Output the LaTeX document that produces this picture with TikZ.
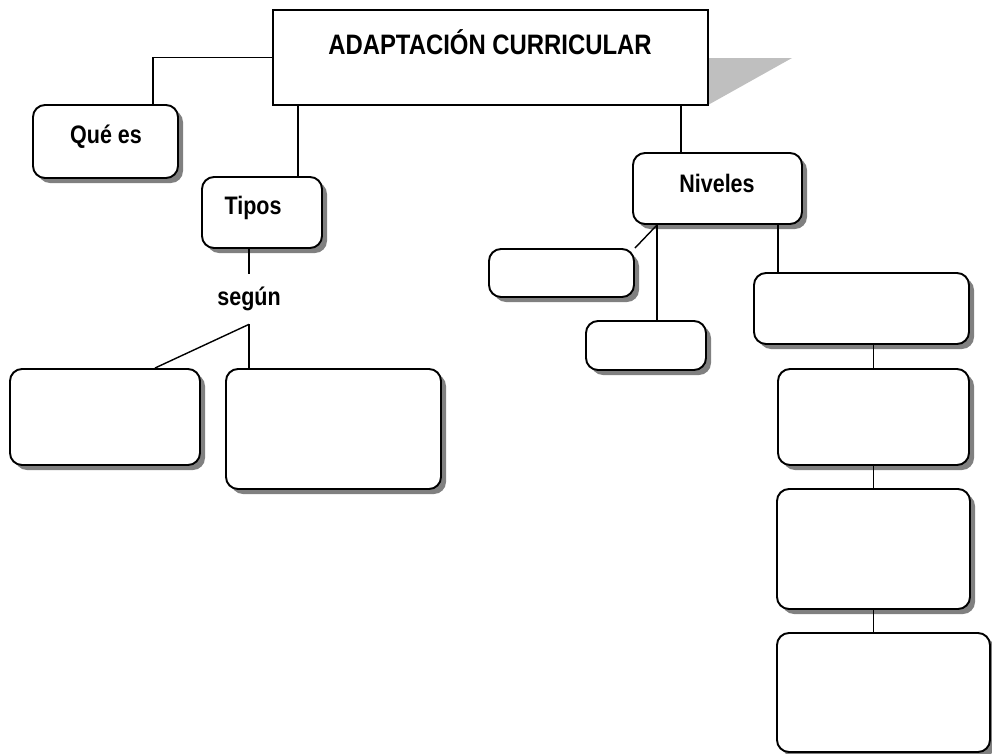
\documentclass[tikz,border=0pt]{standalone}
\usepackage{fontspec}
\setmainfont{Liberation Sans}[FakeStretch=0.85]
\usepackage{tikz}
\usetikzlibrary{positioning,shadows}

\tikzset{
  caja/.style 2 args={draw,line width=1.1pt,rounded corners=0.24cm,fill=white,
    minimum width=#1*0.02cm,minimum height=#2*0.02cm,inner sep=0pt,
    drop shadow={shadow xshift=0.1cm,shadow yshift=-0.1cm,fill=black!50,opacity=1}},
  rotulo/.style={font=\bfseries\fontsize{14.4}{17}\selectfont,inner sep=0pt},
  enlace/.style={line width=0.8pt}
}

\begin{document}
\begin{tikzpicture}[x=0.02cm,y=-0.02cm]
  \useasboundingbox (0,0) rectangle (992,754);
  % titulo
  \fill[black!25] (708,58) -- (792,58) -- (708,105) -- cycle;
  \node(titulo)[draw,line width=1.1pt,fill=white,minimum width=8.7cm,minimum height=1.9cm,inner sep=0pt] at (490.5,57.5) {};
  \node(ttexto)[rotulo,font=\bfseries\fontsize{16}{19}\selectfont] at (490,42) {ADAPTACIÓN CURRICULAR};
  % rama izquierda
  \node(que)[caja={145}{73}] at (105.5,141.5) {};
  \node(qtexto)[rotulo] at (106,137) {Qué es};
  \node(tipos)[caja={120}{71}] at (262,212.5) {};
  \node(titexto)[rotulo] at (253,208) {Tipos};
  \node(segun)[rotulo,minimum height=1cm] at (249,299) {según};
  \node(tipo1)[caja={190}{96}] at (105,417) {};
  \node(tipo2)[caja={215}{120}] at (333.5,429) {};
  % rama derecha
  \node(niveles)[caja={169}{71}] at (717.5,188.5) {};
  \node(ntexto)[rotulo] at (717,183) {Niveles};
  \node(niv1)[caja={145}{48}] at (561.5,273) {};
  \node(niv2)[caja={120}{49}] at (646,345.5) {};
  \node(niv3)[caja={215}{71}] at (861.5,308.5) {};
  \node(niv4)[caja={191}{96}] at (873.5,417) {};
  \node(niv5)[caja={193}{120}] at (873.5,549) {};
  \node(niv6)[caja={213}{119}] at (883.5,692.5) {};
  \coordinate(nb) at ([xshift=-1.21cm]niveles.south);
  \coordinate(nc) at ([xshift=1.21cm]niveles.south);
  \coordinate(ta) at ([xshift=-0.73cm]niveles.north);
  \coordinate(tb) at ([xshift=0.72cm]tipos.north);
  \coordinate(qa) at ([xshift=0.95cm]que.north);
  \coordinate(sa) at ([xshift=1cm]tipo1.north);
  % enlaces
  \draw[enlace] (titulo.west) -| (qa);
  \draw[enlace] (tb |- titulo.south) -- (tb);
  \draw[enlace] (segun |- tipos.south) -- (segun.north);
  \draw[enlace] (segun.south) -- (sa);
  \draw[enlace] (segun.south) -- (segun.south |- tipo2.north);
  \draw[enlace] (ta |- titulo.south) -- (ta);
  \draw[enlace] (nb) -- (niv1.north east);
  \draw[enlace] (nb) -- (nb |- niv2.north);
  \draw[enlace] (nc) -- (nc |- niv3.north);
  \draw[enlace] (niv4.north) -- (niv4.north |- niv3.south);
  \draw[enlace] (niv4.south) -- (niv5.north);
  \draw[enlace] (niv5.south) -- (niv5.south |- niv6.north);
\end{tikzpicture}
\end{document}
